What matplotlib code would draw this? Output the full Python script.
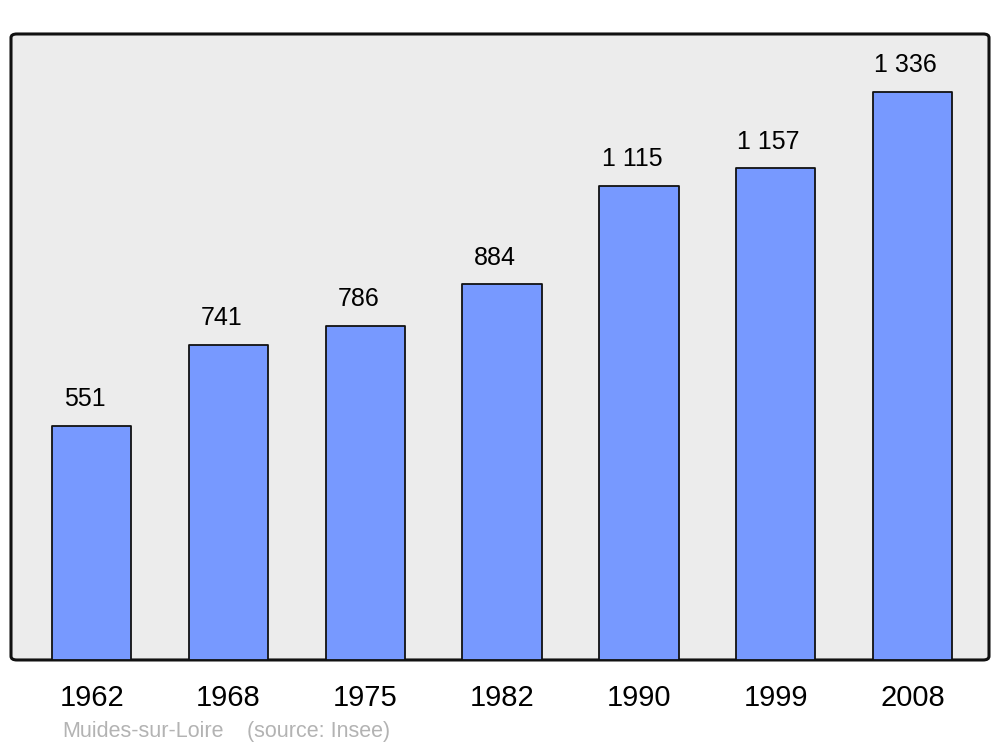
import matplotlib.pyplot as plt
from matplotlib.patches import FancyBboxPatch

plt.rcParams['font.family'] = ['Liberation Sans', 'DejaVu Sans']

years = ["1962", "1968", "1975", "1982", "1990", "1999", "2008"]
population = [551, 741, 786, 884, 1115, 1157, 1336]
value_labels = ["551", "741", "786", "884", "1 115", "1 157", "1 336"]

fig = plt.figure(figsize=(10, 7.47), dpi=100)
ax = fig.add_axes([0.011, 0.1165, 0.978, 0.838])
ax.set_facecolor("none")

# rounded grey frame behind the bars
frame = FancyBboxPatch((0, 0), 1, 1, boxstyle="round,pad=0,rounding_size=0.006",
                       transform=ax.transAxes, facecolor="#ececec",
                       edgecolor="#111111", linewidth=2.2, zorder=0, clip_on=False)
ax.add_patch(frame)

x = range(len(years))
bars = ax.bar(x, population, width=0.58, color="#7799ff", edgecolor="#111111",
              linewidth=1.3, zorder=2)
for b in bars:
    b.set_joinstyle("round")

# labels sit a little left of the bar centre, like the original
for xi, val, lab in zip(x, population, value_labels):
    ax.annotate(lab, (xi, val), xytext=(-5, 19), textcoords="offset points",
                ha="center", va="center", fontsize=18, color="black")

ax.set_xlim(-0.59, 6.56)
ax.set_ylim(0, 1472)
ax.set_xticks(list(x))
ax.set_xticklabels(years, fontsize=21)
ax.tick_params(axis="x", length=0, pad=17)
ax.set_yticks([])
for s in ax.spines.values():
    s.set_visible(False)

fig.text(0.062, 0.021, "Muides-sur-Loire", fontsize=15.5, color="#b3b3b3", va="center")
fig.text(0.247, 0.021, "(source: Insee)", fontsize=15.5, color="#b3b3b3", va="center")

fig.savefig("out.png", dpi=100)
